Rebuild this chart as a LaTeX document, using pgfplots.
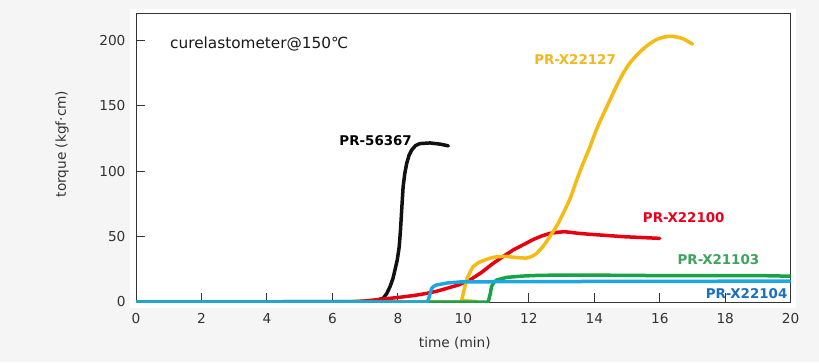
\documentclass[border=0pt]{standalone}
\usepackage{fontspec}
\setmainfont{DejaVu Sans}
\usepackage{pgfplots}
\pgfplotsset{compat=1.18}
\definecolor{bgc}{HTML}{F5F5F5}
\definecolor{axc}{HTML}{333333}
\definecolor{cblack}{HTML}{111111}
\definecolor{cred}{HTML}{E60012}
\definecolor{cyellow}{HTML}{F5BA14}
\definecolor{cgreen}{HTML}{1AA345}
\definecolor{cblue}{HTML}{1EA6E0}
\definecolor{lred}{HTML}{E8001C}
\definecolor{lyellow}{HTML}{F2B81E}
\definecolor{lgreen}{HTML}{3DA35D}
\definecolor{lblue}{HTML}{1A70C0}
\tikzset{labelnode/.style={anchor=west, inner sep=0pt, font=\fontsize{13.4}{16}\selectfont\bfseries}}
\begin{document}
\begin{tikzpicture}[x=1pt,y=1pt]
\fill[bgc] (0,0) rectangle (819,362);
\fill[white] (130,54) rectangle (796,353);
\useasboundingbox (0,0) rectangle (819,362);
\begin{axis}[
  at={(136pt,60pt)}, anchor=south west,
  scale only axis, width=654.7pt, height=288pt,
  xmin=0, xmax=20, ymin=0, ymax=220,
  xtick={0,2,...,20}, ytick={0,50,...,200},
  tick align=inside, xtick pos=bottom, ytick pos=left,
  major tick length=9pt,
  axis line style={draw=axc, line width=1pt},
  tick style={draw=axc, line width=1pt},
  /pgf/number format/assume math mode=true,
  ticklabel style={font=\fontsize{13.7}{16}\selectfont, text=axc},
  xticklabel style={yshift=-8pt},
  yticklabel style={xshift=-7pt},
  xlabel={time (min)},
  ylabel={torque (kgf·cm)},
  label style={font=\fontsize{13.7}{16}\selectfont, text=axc},
  xlabel style={at={(axis description cs:0.487,-0.1424)}, anchor=center},
  ylabel style={at={(axis description cs:-0.113,0.5486)}, anchor=center},
  clip mode=individual,
  every axis plot/.append style={line width=3.5pt, line join=round, line cap=round},
]
\addplot[cblack] coordinates {
(0,0) (7.0,0.3) (7.3,1) (7.55,2.8) (7.66,6.5) (7.76,11.7) (7.85,18) (7.91,24.4) (7.98,32) (8.04,42) (8.08,55) (8.11,67.7) (8.14,80) (8.16,88) (8.21,98) (8.27,106) (8.34,112) (8.42,116) (8.54,119.5) (8.67,121) (8.98,121.5) (9.29,120.6) (9.54,119.3)};
\addplot[cred] coordinates {
(0,0) (6.5,0) (7.0,0.8) (7.45,2) (8.06,3.6) (8.5,5) (8.88,6.6) (9.2,8.3) (9.49,10.4) (9.85,13) (10.2,16.8) (10.55,22.5) (10.91,29.5) (11.2,34.5) (11.52,39.7) (11.85,44) (12.14,47.8) (12.4,50.5) (12.64,52.4) (12.9,53.3) (13.1,53.7) (13.5,52.5) (13.87,51.7) (14.4,50.8) (14.88,49.9) (15.5,49.2) (16.0,48.6)};
\addplot[cyellow, smooth, tension=0.4] coordinates {
(0,0) (9.9,0) (9.95,1.5) (10.02,9) (10.1,16.8) (10.2,22.5) (10.3,27) (10.5,30.5) (10.81,33.4) (11.05,34.6) (11.32,34.8) (11.6,34) (11.93,33.6) (12.1,35) (12.24,37.2) (12.45,43) (12.64,49.9) (12.85,58) (13.05,67.7) (13.26,79) (13.46,93) (13.66,106) (13.87,118.6) (14.07,132) (14.38,149) (14.68,165) (14.88,174.6) (15.1,183) (15.39,191) (15.65,196.5) (15.9,200.5) (16.1,202.2) (16.31,203) (16.5,202.5) (16.72,201) (17.0,197)};
\addplot[cgreen] coordinates {
(0,0) (10.76,0) (10.82,6) (10.86,11.7) (10.93,15) (11.02,16.8) (11.32,18.8) (11.8,19.8) (12.34,20.4) (13.87,20.6) (15,20.3) (17,20.1) (19,20.2) (20,19.7)};
\addplot[cblue] coordinates {
(0,0) (8.88,0) (8.93,1.5) (8.98,6) (9.03,10.4) (9.1,12) (9.18,13) (9.5,14.5) (9.9,15.3) (11,15.5) (13,15.6) (15,15.8) (17,15.8) (20,16)};
\node[labelnode, text=black] at (axis cs:6.21,123.0) {PR-56367};
\node[labelnode, text=lyellow] at (axis cs:12.16,185.6) {PR-X22127};
\node[labelnode, text=lred] at (axis cs:15.48,64.2) {PR-X22100};
\node[labelnode, text=lgreen] at (axis cs:16.54,32.1) {PR-X21103};
\node[labelnode, text=lblue] at (axis cs:17.40,6.6) {PR-X22104};
\node[anchor=west, inner sep=0pt, font=\fontsize{15.3}{18}\selectfont, text=black!90] at (rel axis cs:0.0519,0.896) {curelastometer@150℃};
\end{axis}
\end{tikzpicture}
\end{document}
